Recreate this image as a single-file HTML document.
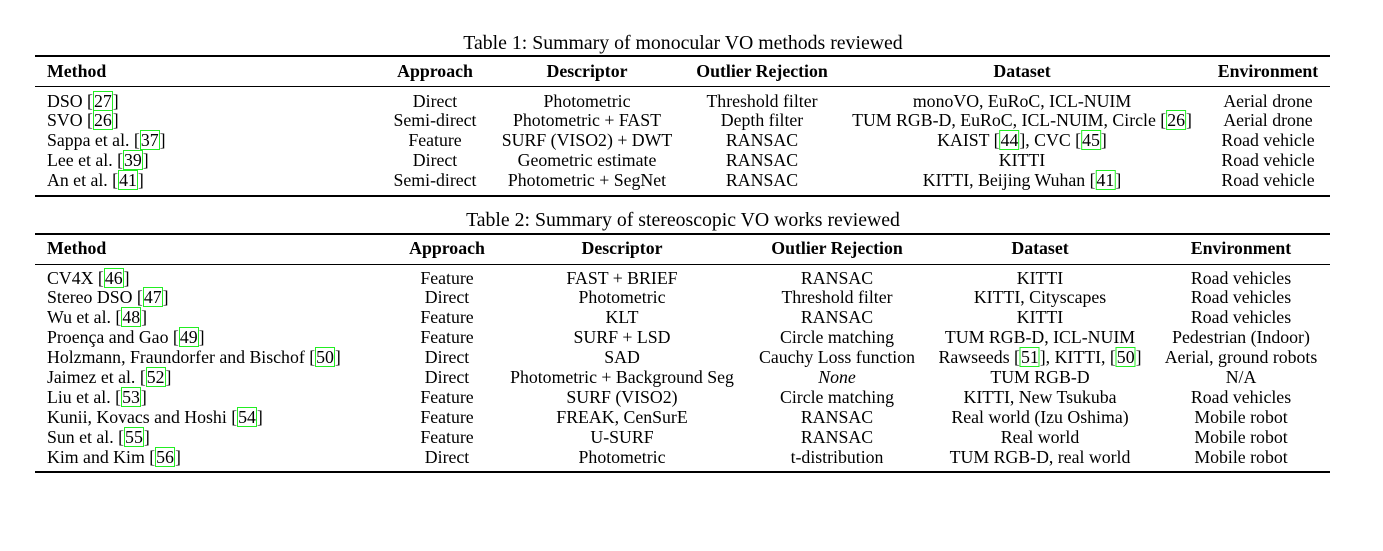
<!DOCTYPE html>
<html><head><meta charset="utf-8"><style>
body{margin:0;width:1383px;height:551px;background:#fff;position:relative;overflow:hidden;font-family:"Liberation Serif",serif;color:#000;font-size:17.8px}
.t{position:absolute;line-height:20px;white-space:nowrap}
.c{transform:translateX(-50%)}
.h{font-weight:bold}
.cap{font-size:19.8px}
.r{position:absolute;left:35px;width:1295px;background:#000}
.cite{outline:1px solid #22ee22;outline-offset:-1px;padding:0 1px}
</style></head><body>
<div id="root"></div>
<script>
const root=document.getElementById('root');
function txt(x,y,html,cls,name){const d=document.createElement('div');d.className='t '+(cls||'');d.style.left=x+'px';d.style.top=(y-10.5)+'px';d.innerHTML=html;


root.appendChild(d);}
function rule(y,h,name){const d=document.createElement('div');d.className='r';d.style.top=y+'px';d.style.height=h+'px';


root.appendChild(d);}
function cite(n){return '[<span class="cite">'+n+'</span>]';}
const heads=['Method','Approach','Descriptor','Outlier Rejection','Dataset','Environment'];
const t1rows=[
['DSO '+cite(27),'Direct','Photometric','Threshold filter','monoVO, EuRoC, ICL-NUIM','Aerial drone'],
['SVO '+cite(26),'Semi-direct','Photometric + FAST','Depth filter','TUM RGB-D, EuRoC, ICL-NUIM, Circle '+cite(26),'Aerial drone'],
['Sappa et al. '+cite(37),'Feature','SURF (VISO2) + DWT','RANSAC','KAIST '+cite(44)+', CVC '+cite(45),'Road vehicle'],
['Lee et al. '+cite(39),'Direct','Geometric estimate','RANSAC','KITTI','Road vehicle'],
['An et al. '+cite(41),'Semi-direct','Photometric + SegNet','RANSAC','KITTI, Beijing Wuhan '+cite(41),'Road vehicle']];
const t2rows=[
['CV4X '+cite(46),'Feature','FAST + BRIEF','RANSAC','KITTI','Road vehicles'],
['Stereo DSO '+cite(47),'Direct','Photometric','Threshold filter','KITTI, Cityscapes','Road vehicles'],
['Wu et al. '+cite(48),'Feature','KLT','RANSAC','KITTI','Road vehicles'],
['Proença and Gao '+cite(49),'Feature','SURF + LSD','Circle matching','TUM RGB-D, ICL-NUIM','Pedestrian (Indoor)'],
['Holzmann, Fraundorfer and Bischof '+cite(50),'Direct','SAD','Cauchy Loss function','Rawseeds '+cite(51)+', KITTI, '+cite(50),'Aerial, ground robots'],
['Jaimez et al. '+cite(52),'Direct','Photometric + Background Seg','<i>None</i>','TUM RGB-D','N/A'],
['Liu et al. '+cite(53),'Feature','SURF (VISO2)','Circle matching','KITTI, New Tsukuba','Road vehicles'],
['Kunii, Kovacs and Hoshi '+cite(54),'Feature','FREAK, CenSurE','RANSAC','Real world (Izu Oshima)','Mobile robot'],
['Sun et al. '+cite(55),'Feature','U-SURF','RANSAC','Real world','Mobile robot'],
['Kim and Kim '+cite(56),'Direct','Photometric','t-distribution','TUM RGB-D, real world','Mobile robot']];
function table(title,titleY,topY,headY,midY,rows,rowY0,step,botY,cols,pre){
 txt(683,titleY,title,'c cap',pre+'-caption');
 rule(topY,2,pre+'-top-rule');
 heads.forEach((h,i)=>txt(i?cols[i]:47,headY,h,'h'+(i?' c':''),pre+'-header-'+h.toLowerCase().replace(/ /g,'-')));
 rule(midY,1,pre+'-header-rule');
 rows.forEach((r,j)=>r.forEach((v,i)=>txt(i?cols[i]:47,rowY0+j*step,v,i?'c':'',pre+'-row'+(j+1)+'-col'+(i+1))));
 rule(botY,2,pre+'-bottom-rule');
}
table('Table 1: Summary of monocular VO methods reviewed',43,55,71,86,t1rows,101,19.8,195,[0,435,587,762,1022,1268],'table1');
table('Table 2: Summary of stereoscopic VO works reviewed',220,233,248,264,t2rows,278,19.9,471,[0,447,622,837,1040,1241],'table2');
</script>
</body></html>
